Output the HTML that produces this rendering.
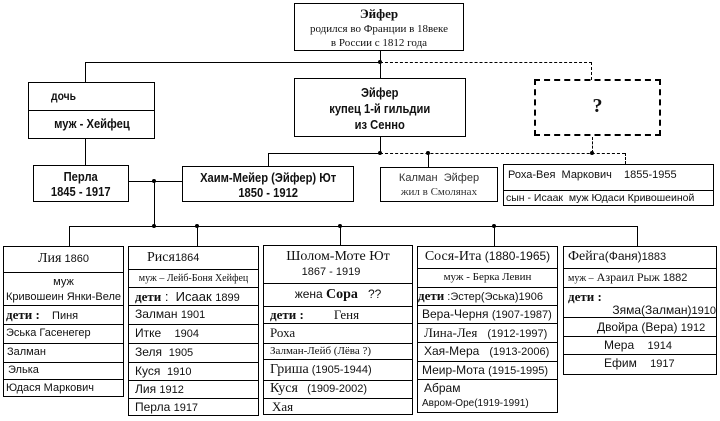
<!DOCTYPE html>
<html><head><meta charset="utf-8"><style>
*{margin:0;padding:0;box-sizing:border-box}
body{width:720px;height:421px;background:#fff;position:relative;overflow:hidden;font-family:"Liberation Sans",sans-serif;color:#111}
.b{position:absolute;border:1px solid #000;background:#fff}
.l{position:absolute;background:#000}
.dh{position:absolute;height:0;border-top:1px dashed #000}
.dv{position:absolute;width:0;border-left:1px dashed #000}
.dot{position:absolute;width:4px;height:4px;border-radius:2px;background:#000}
.r{position:absolute;left:0;right:0;border-top:1px solid #000;white-space:nowrap;overflow:hidden}
.c{text-align:center}
.nb{font-family:"Liberation Sans Narrow","Liberation Sans",sans-serif;font-weight:bold}
.n{display:inline-block;transform:scaleX(0.86);transform-origin:center}
.s{font-family:"Liberation Serif",serif}
.t{position:absolute;left:0;right:0;white-space:nowrap}
</style></head><body>
<!-- top box -->
<div class="b s c" style="left:294px;top:3px;width:170px;height:48px;font-size:11px;line-height:14px;padding-top:3px">
<b style="font-size:13px">Эйфер</b><br>родился во Франции в 18веке<br>в России с 1812 года</div>
<div class="l" style="left:380px;top:51px;width:1px;height:27px"></div>
<div class="l" style="left:85px;top:62px;width:295px;height:1px"></div>
<div class="dot" style="left:378px;top:60px"></div>
<div class="dh" style="left:380px;top:62px;width:212px"></div>
<div class="dv" style="left:591px;top:62px;height:18px"></div>
<div class="l" style="left:85px;top:62px;width:1px;height:20px"></div>
<!-- дочь -->
<div class="b nb" style="left:28px;top:82px;width:127px;height:57px;font-size:12px">
<div class="t" style="top:6px;left:20px"><span class="n">дочь</span></div>
<div class="r c" style="top:27px;height:28px;line-height:26px;font-size:13px"><span class="n">муж - Хейфец</span></div></div>
<!-- Эйфер купец -->
<div class="b nb c" style="left:294px;top:78px;width:172px;height:59px;font-size:13px;line-height:16px;padding-top:6px"><span class="n">Эйфер<br>купец 1-й гильдии<br>из Сенно</span></div>
<!-- ? -->
<div class="s c" style="position:absolute;left:534px;top:79px;width:127px;height:57px;border:2px dashed #000;font-size:20px;font-weight:bold;line-height:50px">?</div>
<div class="l" style="left:380px;top:137px;width:1px;height:16px"></div>
<div class="l" style="left:268px;top:153px;width:112px;height:1px"></div>
<div class="dot" style="left:378px;top:151px"></div>
<div class="dh" style="left:380px;top:153px;width:245px"></div>
<div class="dot" style="left:426px;top:151px"></div>
<div class="l" style="left:428px;top:153px;width:1px;height:14px"></div>
<div class="dv" style="left:592px;top:137px;height:16px"></div>
<div class="dot" style="left:590px;top:151px"></div>
<div class="dv" style="left:625px;top:153px;height:11px"></div>
<div class="l" style="left:268px;top:153px;width:1px;height:14px"></div>
<div class="l" style="left:85px;top:139px;width:1px;height:27px"></div>
<!-- row 2 -->
<div class="b nb c" style="left:33px;top:165px;width:96px;height:37px;font-size:13px;line-height:15px;padding-top:3px"><span class="n">Перла<br>1845 - 1917</span></div>
<div class="b nb c" style="left:182px;top:166px;width:172px;height:36px;font-size:13px;line-height:15px;padding-top:3px"><span class="n">Хаим-Мейер (Эйфер) Ют<br>1850 - 1912</span></div>
<div class="b c" style="left:380px;top:167px;width:118px;height:35px;font-size:11px;line-height:14px;padding-top:3px;color:#333">Калман&nbsp; Эйфер<br><span class="s">жил в Смолянах</span></div>
<div class="b" style="left:503px;top:164px;width:211px;height:42px;font-size:11px">
<div class="t" style="top:4px;left:4px">Роха-Вея&nbsp; Маркович&nbsp;&nbsp;&nbsp; 1855-1955</div>
<div class="r" style="top:25px;height:16px;line-height:15px;padding-left:2px;font-size:10.5px">сын - Исаак&nbsp; муж Юдаси Кривошеиной</div></div>
<div class="l" style="left:129px;top:181px;width:53px;height:1px"></div>
<div class="dot" style="left:152px;top:179px"></div>
<div class="l" style="left:154px;top:181px;width:1px;height:46px"></div>
<div class="l" style="left:69px;top:226px;width:569px;height:1px"></div>
<div class="dot" style="left:152px;top:224px"></div>
<div class="dot" style="left:195px;top:224px"></div>
<div class="dot" style="left:338px;top:224px"></div>
<div class="dot" style="left:492px;top:224px"></div>
<div class="l" style="left:69px;top:226px;width:1px;height:20px"></div>
<div class="l" style="left:197px;top:226px;width:1px;height:20px"></div>
<div class="l" style="left:340px;top:226px;width:1px;height:20px"></div>
<div class="l" style="left:494px;top:226px;width:1px;height:20px"></div>
<div class="l" style="left:637px;top:226px;width:1px;height:20px"></div>
<!-- Лия -->
<div class="b" style="left:3px;top:246px;width:121px;height:151px;font-size:11px">
<div class="t c" style="top:4px"><span class="s" style="font-size:14px">Лия</span> 1860</div>
<div class="r c" style="top:25px;height:33px;line-height:15px;padding-top:2px">муж<br>Кривошеин Янки-Веле</div>
<div class="r" style="top:58px;height:19px;line-height:17px;padding-left:2px"><b class="s" style="font-size:13px">дети :</b>&nbsp;&nbsp;&nbsp; Пиня</div>
<div class="r" style="top:77px;height:19px;line-height:17px;padding-left:2px">Эська Гасенегер</div>
<div class="r" style="top:96px;height:19px;line-height:17px;padding-left:3px">Залман</div>
<div class="r" style="top:115px;height:17px;line-height:14px;padding-left:4px">Элька</div>
<div class="r" style="top:132px;height:18px;line-height:17px;padding-left:2px">Юдася Маркович</div></div>
<!-- Рися -->
<div class="b" style="left:128px;top:246px;width:131px;height:170px;font-size:12px">
<div class="t" style="top:3px;left:18px"><span class="s" style="font-size:14px">Рися</span><span style="font-size:11px">1864</span></div>
<div class="r c s" style="top:22px;height:18px;line-height:17px;font-size:10px">муж – Лейб-Боня Хейфец</div>
<div class="r" style="top:40px;height:18px;line-height:17px;padding-left:6px;font-size:13px"><b class="s">дети</b> :&nbsp; Исаак <span style="font-size:11px">1899</span></div>
<div class="r" style="top:58px;height:19px;line-height:17px;padding-left:6px">Залман <span style="font-size:11px">1901</span></div>
<div class="r" style="top:77px;height:19px;line-height:17px;padding-left:6px">Итке&nbsp;&nbsp;&nbsp; <span style="font-size:11px">1904</span></div>
<div class="r" style="top:96px;height:19px;line-height:17px;padding-left:6px">Зеля&nbsp; <span style="font-size:11px">1905</span></div>
<div class="r" style="top:115px;height:18px;line-height:16px;padding-left:6px">Куся&nbsp; <span style="font-size:11px">1910</span></div>
<div class="r" style="top:133px;height:18px;line-height:17px;padding-left:6px">Лия <span style="font-size:11px">1912</span></div>
<div class="r" style="top:151px;height:18px;line-height:17px;padding-left:6px">Перла <span style="font-size:11px">1917</span></div></div>
<!-- Шолом -->
<div class="b" style="left:263px;top:245px;width:150px;height:170px;font-size:12px">
<div class="t c s" style="top:3px;font-size:14px">Шолом-Моте Ют</div>
<div class="t c" style="top:20px;font-size:11px;padding-right:14px">1867 - 1919</div>
<div class="r c" style="top:37px;height:23px;line-height:21px">жена <b class="s" style="font-size:14px">Сора</b>&nbsp;&nbsp; ??</div>
<div class="r" style="top:60px;height:17px;line-height:15px;padding-left:6px"><b class="s" style="font-size:13px">дети :</b>&nbsp;&nbsp;&nbsp;&nbsp;&nbsp;&nbsp;&nbsp;&nbsp; <span class="s" style="font-size:13px">Геня</span></div>
<div class="r s" style="top:77px;height:20px;line-height:18px;padding-left:6px;font-size:13px">Роха</div>
<div class="r s" style="top:97px;height:16px;line-height:15px;padding-left:6px;font-size:11px">Залман-Лейб (Лёва ?)</div>
<div class="r" style="top:113px;height:21px;line-height:19px;padding-left:6px;font-size:11px"><span class="s" style="font-size:14px">Гриша</span> (1905-1944)</div>
<div class="r" style="top:134px;height:18px;line-height:16px;padding-left:6px;font-size:11px"><span class="s" style="font-size:14px">Куся</span>&nbsp;&nbsp; (1909-2002)</div>
<div class="r s" style="top:152px;height:17px;line-height:16px;padding-left:8px;font-size:13px">Хая</div></div>
<!-- Сося -->
<div class="b" style="left:417px;top:246px;width:141px;height:167px;font-size:12px">
<div class="t c" style="top:2px"><span class="s" style="font-size:14px">Сося-Ита</span> (1880-1965)</div>
<div class="r c s" style="top:21px;height:19px;line-height:17px;font-size:11px">муж - Берка Левин</div>
<div class="r" style="top:40px;height:18px;line-height:16px;font-size:11px"><b class="s" style="font-size:13px">дети</b> :Эстер(Эська)1906</div>
<div class="r" style="top:58px;height:18px;line-height:17px;padding-left:4px">Вера-Черня <span style="font-size:11px">(1907-1987)</span></div>
<div class="r" style="top:76px;height:19px;line-height:18px;padding-left:6px"><span class="s" style="font-size:13px">Лина-Лея</span>&nbsp;&nbsp; <span style="font-size:11px">(1912-1997)</span></div>
<div class="r" style="top:95px;height:19px;line-height:17px;padding-left:6px">Хая-Мера&nbsp;&nbsp; <span style="font-size:11px">(1913-2006)</span></div>
<div class="r" style="top:114px;height:18px;line-height:17px;padding-left:4px">Меир-Мота <span style="font-size:11px">(1915-1995)</span></div>
<div class="r" style="top:132px;height:34px;line-height:14px;padding-left:6px;padding-top:1px">Абрам<br><span style="font-size:10px;margin-left:-2px">Авром-Оре(1919-1991)</span></div></div>
<!-- Фейга -->
<div class="b" style="left:563px;top:246px;width:154px;height:129px;font-size:12px">
<div class="t" style="top:2px;left:4px"><span class="s" style="font-size:14px">Фейга</span>(Фаня)<span style="font-size:11px">1883</span></div>
<div class="r" style="top:21px;height:19px;line-height:17px;padding-left:4px;font-size:11px"><span class="s" style="font-size:10px">муж –</span> <span class="s" style="font-size:12px">Азраил Рыж</span> 1882</div>
<div class="r" style="top:40px;height:30px;font-size:12px">
<div class="t" style="top:1px;left:4px"><b class="s" style="font-size:13px">дети :</b></div>
<div class="t" style="top:15px;right:0;left:auto">Зяма(Залман)<span style="font-size:11px">1910</span></div></div>
<div class="r" style="top:70px;height:19px;line-height:18px;padding-left:33px">Двойра (Вера) <span style="font-size:11px">1912</span></div>
<div class="r" style="top:89px;height:18px;line-height:16px;padding-left:40px">Мера&nbsp;&nbsp;&nbsp; <span style="font-size:11px">1914</span></div>
<div class="r" style="top:107px;height:21px;line-height:17px;padding-left:40px">Ефим&nbsp;&nbsp;&nbsp; <span style="font-size:11px">1917</span></div></div>
</body></html>
